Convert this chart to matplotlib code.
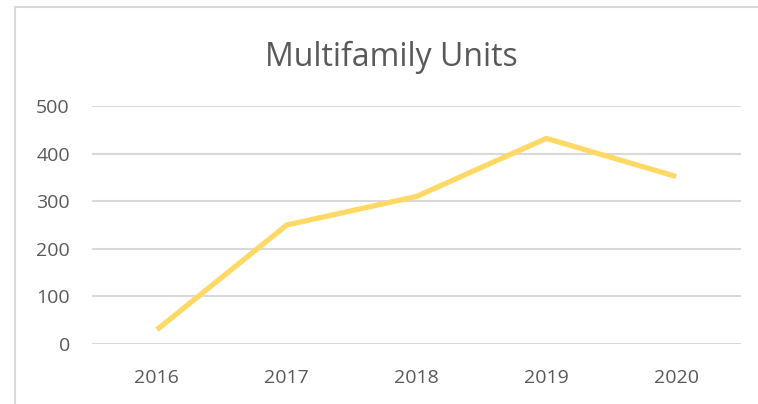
import matplotlib
matplotlib.use("Agg")
import matplotlib.pyplot as plt
from matplotlib.patches import Rectangle

# chart data
years = ["2016", "2017", "2018", "2019", "2020"]
units = [30, 250, 310, 432, 352]
y_ticks = [0, 100, 200, 300, 400, 500]

text_color = "#595959"
grid_color = "#D9D9D9"
line_color = "#FFD966"

W, H = 758, 404
fig = plt.figure(figsize=(W / 100, H / 100), dpi=100)
plt.rcParams['font.family'] = ['Open Sans', 'DejaVu Sans']

# outer chart border (only left and top visible in the crop)
fig.patches.append(Rectangle((15 / W, -0.1), 1.2, (H - 7) / H + 0.1,
                             transform=fig.transFigure, fill=False,
                             edgecolor=grid_color, linewidth=1.5))

ax = fig.add_axes([92 / W, 60 / H, (741 - 92) / W, (344 - 106) / H])
x = list(range(len(years)))
ax.plot(x, units, color=line_color, linewidth=3.8, solid_capstyle='butt', zorder=3)

ax.set_xlim(-0.5, len(years) - 0.5)
ax.set_ylim(0, 500)
ax.set_xticks(x)
ax.set_xticklabels(years)
ax.set_yticks(y_ticks)
ax.grid(True, axis='y', color=grid_color, linewidth=1.5)
ax.set_axisbelow(True)
for s in ax.spines.values():
    s.set_visible(False)
ax.tick_params(axis='both', length=0, labelsize=14, labelcolor=text_color)
ax.tick_params(axis='y', pad=16)
ax.tick_params(axis='x', pad=18)

fig.text(391 / W, 1 - 57 / H, "Multifamily Units", ha='center', va='center',
         fontsize=23, color=text_color)

fig.savefig("out.png", dpi=100)
